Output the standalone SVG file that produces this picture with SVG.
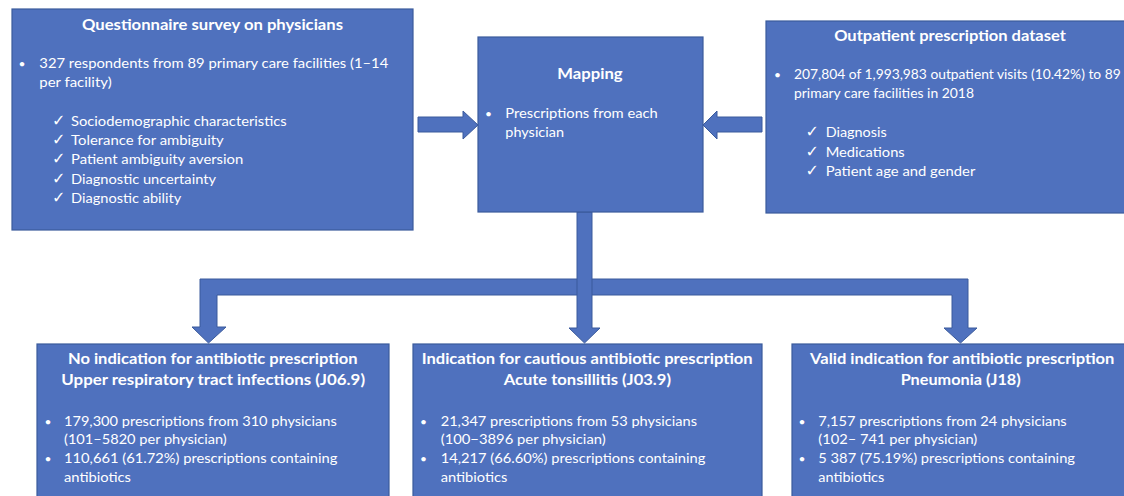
<svg xmlns="http://www.w3.org/2000/svg" width="1124" height="496" viewBox="0 0 1124 496">
<style>
.box{fill:#4F71BE;stroke:#3B5B9C;stroke-width:1.2}
.arr{fill:#4F71BE;stroke:#3B5B9C;stroke-width:1}
text{fill:#FFFFFF;font-family:Lato,"Liberation Sans",sans-serif}
.t{font-size:15.5px;font-weight:bold}
.b{font-size:13.8px}
.ck{font-family:"DejaVu Sans",sans-serif;font-size:16px}
.dot{font-size:12px}
</style>
<rect x="0" y="0" width="1124" height="496" fill="#FFFFFF"/>
<g id="connectors">
<polygon class="arr" points="418,117 463,117 463,111 478,125 463,139 463,132 418,132"/>
<polygon class="arr" points="762,117 717,117 717,111 703,125 717,139 717,132 762,132"/>
<polygon class="arr" points="208.5,343 226,327 217,327 217,295 952,295 952,328 944,328 960.5,343 977,328 968,328 968,279 200,279 200,327 192,327"/>
<polygon class="arr" points="577,212 592,212 592,328 600,328 584.5,343 569,328 577,328"/>
</g>
<g id="survey">
<rect class="box" x="12" y="9" width="401" height="221"/>
<text class="t" x="212.5" y="29.5" text-anchor="middle" textLength="261" lengthAdjust="spacingAndGlyphs">Questionnaire survey on physicians</text>
<text class="dot" x="18.5" y="67.5">•</text>
<text class="b" x="39.3" y="67.7" textLength="349" lengthAdjust="spacingAndGlyphs">327 respondents from 89 primary care facilities (1–14</text>
<text class="b" x="39.3" y="87" textLength="72.4" lengthAdjust="spacingAndGlyphs">per facility)</text>
<text class="ck" x="52" y="125.7">✓</text>
<text class="b" x="71" y="125.7" textLength="215.7" lengthAdjust="spacingAndGlyphs">Sociodemographic characteristics</text>
<text class="ck" x="52" y="145">✓</text>
<text class="b" x="71" y="145" textLength="152.7" lengthAdjust="spacingAndGlyphs">Tolerance for ambiguity</text>
<text class="ck" x="52" y="164.3">✓</text>
<text class="b" x="71" y="164.3" textLength="172.3" lengthAdjust="spacingAndGlyphs">Patient ambiguity aversion</text>
<text class="ck" x="52" y="183.7">✓</text>
<text class="b" x="71" y="183.7" textLength="145" lengthAdjust="spacingAndGlyphs">Diagnostic uncertainty</text>
<text class="ck" x="52" y="202.7">✓</text>
<text class="b" x="71" y="202.7" textLength="110.3" lengthAdjust="spacingAndGlyphs">Diagnostic ability</text>
</g>
<g id="mapping">
<rect class="box" x="478" y="37" width="225" height="175"/>
<text class="t" x="590" y="78.5" text-anchor="middle" textLength="65.3" lengthAdjust="spacingAndGlyphs">Mapping</text>
<text class="dot" x="485" y="117.5">•</text>
<text class="b" x="505.3" y="117.7" textLength="152.4" lengthAdjust="spacingAndGlyphs">Prescriptions from each</text>
<text class="b" x="505.3" y="136.7" textLength="58.7" lengthAdjust="spacingAndGlyphs">physician</text>
</g>
<g id="dataset">
<rect class="box" x="766" y="21" width="368" height="192"/>
<text class="t" x="950" y="40.7" text-anchor="middle" textLength="231.7" lengthAdjust="spacingAndGlyphs">Outpatient prescription dataset</text>
<text class="dot" x="774" y="79">•</text>
<text class="b" x="794" y="79" textLength="326.7" lengthAdjust="spacingAndGlyphs">207,804 of 1,993,983 outpatient visits (10.42%) to 89</text>
<text class="b" x="794" y="97.5" textLength="180" lengthAdjust="spacingAndGlyphs">primary care facilities in 2018</text>
<text class="ck" x="805.5" y="137.3">✓</text>
<text class="b" x="825.7" y="137.3" textLength="61" lengthAdjust="spacingAndGlyphs">Diagnosis</text>
<text class="ck" x="805.5" y="156.7">✓</text>
<text class="b" x="825.7" y="156.7" textLength="79" lengthAdjust="spacingAndGlyphs">Medications</text>
<text class="ck" x="805.5" y="175.7">✓</text>
<text class="b" x="825.7" y="175.7" textLength="149.6" lengthAdjust="spacingAndGlyphs">Patient age and gender</text>
</g>
<g id="no-indication">
<rect class="box" x="37" y="344" width="352" height="160"/>
<text class="t" x="212.8" y="364.3" text-anchor="middle" textLength="289.7" lengthAdjust="spacingAndGlyphs">No indication for antibiotic prescription</text>
<text class="t" x="213.2" y="385.3" text-anchor="middle" textLength="303.7" lengthAdjust="spacingAndGlyphs">Upper respiratory tract infections (J06.9)</text>
<text class="dot" x="44.5" y="425.5">•</text>
<text class="b" x="64" y="425.7" textLength="272.7" lengthAdjust="spacingAndGlyphs">179,300 prescriptions from 310 physicians</text>
<text class="b" x="64" y="444.3" textLength="162.7" lengthAdjust="spacingAndGlyphs">(101–5820 per physician)</text>
<text class="dot" x="44.5" y="463.3">•</text>
<text class="b" x="64" y="463.3" textLength="273.3" lengthAdjust="spacingAndGlyphs">110,661 (61.72%) prescriptions containing</text>
<text class="b" x="64" y="481.7" textLength="67" lengthAdjust="spacingAndGlyphs">antibiotics</text>
</g>
<g id="cautious-indication">
<rect class="box" x="413" y="344" width="349" height="160"/>
<text class="t" x="587.2" y="364.3" text-anchor="middle" textLength="331" lengthAdjust="spacingAndGlyphs">Indication for cautious antibiotic prescription</text>
<text class="t" x="587.3" y="385.3" text-anchor="middle" textLength="167.3" lengthAdjust="spacingAndGlyphs">Acute tonsillitis (J03.9)</text>
<text class="dot" x="420" y="425.5">•</text>
<text class="b" x="440.7" y="425.7" textLength="256.3" lengthAdjust="spacingAndGlyphs">21,347 prescriptions from 53 physicians</text>
<text class="b" x="440.7" y="444.3" textLength="165" lengthAdjust="spacingAndGlyphs">(100−3896 per physician)</text>
<text class="dot" x="420" y="463.3">•</text>
<text class="b" x="440.7" y="463.3" textLength="264.6" lengthAdjust="spacingAndGlyphs">14,217 (66.60%) prescriptions containing</text>
<text class="b" x="440.7" y="481.7" textLength="66.6" lengthAdjust="spacingAndGlyphs">antibiotics</text>
</g>
<g id="valid-indication">
<rect class="box" x="792" y="344" width="340" height="160"/>
<text class="t" x="962.2" y="364.3" text-anchor="middle" textLength="304.3" lengthAdjust="spacingAndGlyphs">Valid indication for antibiotic prescription</text>
<text class="t" x="960.7" y="385.3" text-anchor="middle" textLength="120" lengthAdjust="spacingAndGlyphs">Pneumonia (J18)</text>
<text class="dot" x="798.5" y="425.5">•</text>
<text class="b" x="818.3" y="425.7" textLength="248.4" lengthAdjust="spacingAndGlyphs">7,157 prescriptions from 24 physicians</text>
<text class="b" x="818.3" y="444.3" textLength="159" lengthAdjust="spacingAndGlyphs">(102– 741 per physician)</text>
<text class="dot" x="798.5" y="463.3">•</text>
<text class="b" x="818.3" y="463.3" textLength="256.7" lengthAdjust="spacingAndGlyphs">5 387  (75.19%) prescriptions containing</text>
<text class="b" x="818.3" y="481.7" textLength="66" lengthAdjust="spacingAndGlyphs">antibiotics</text>
</g>
</svg>
